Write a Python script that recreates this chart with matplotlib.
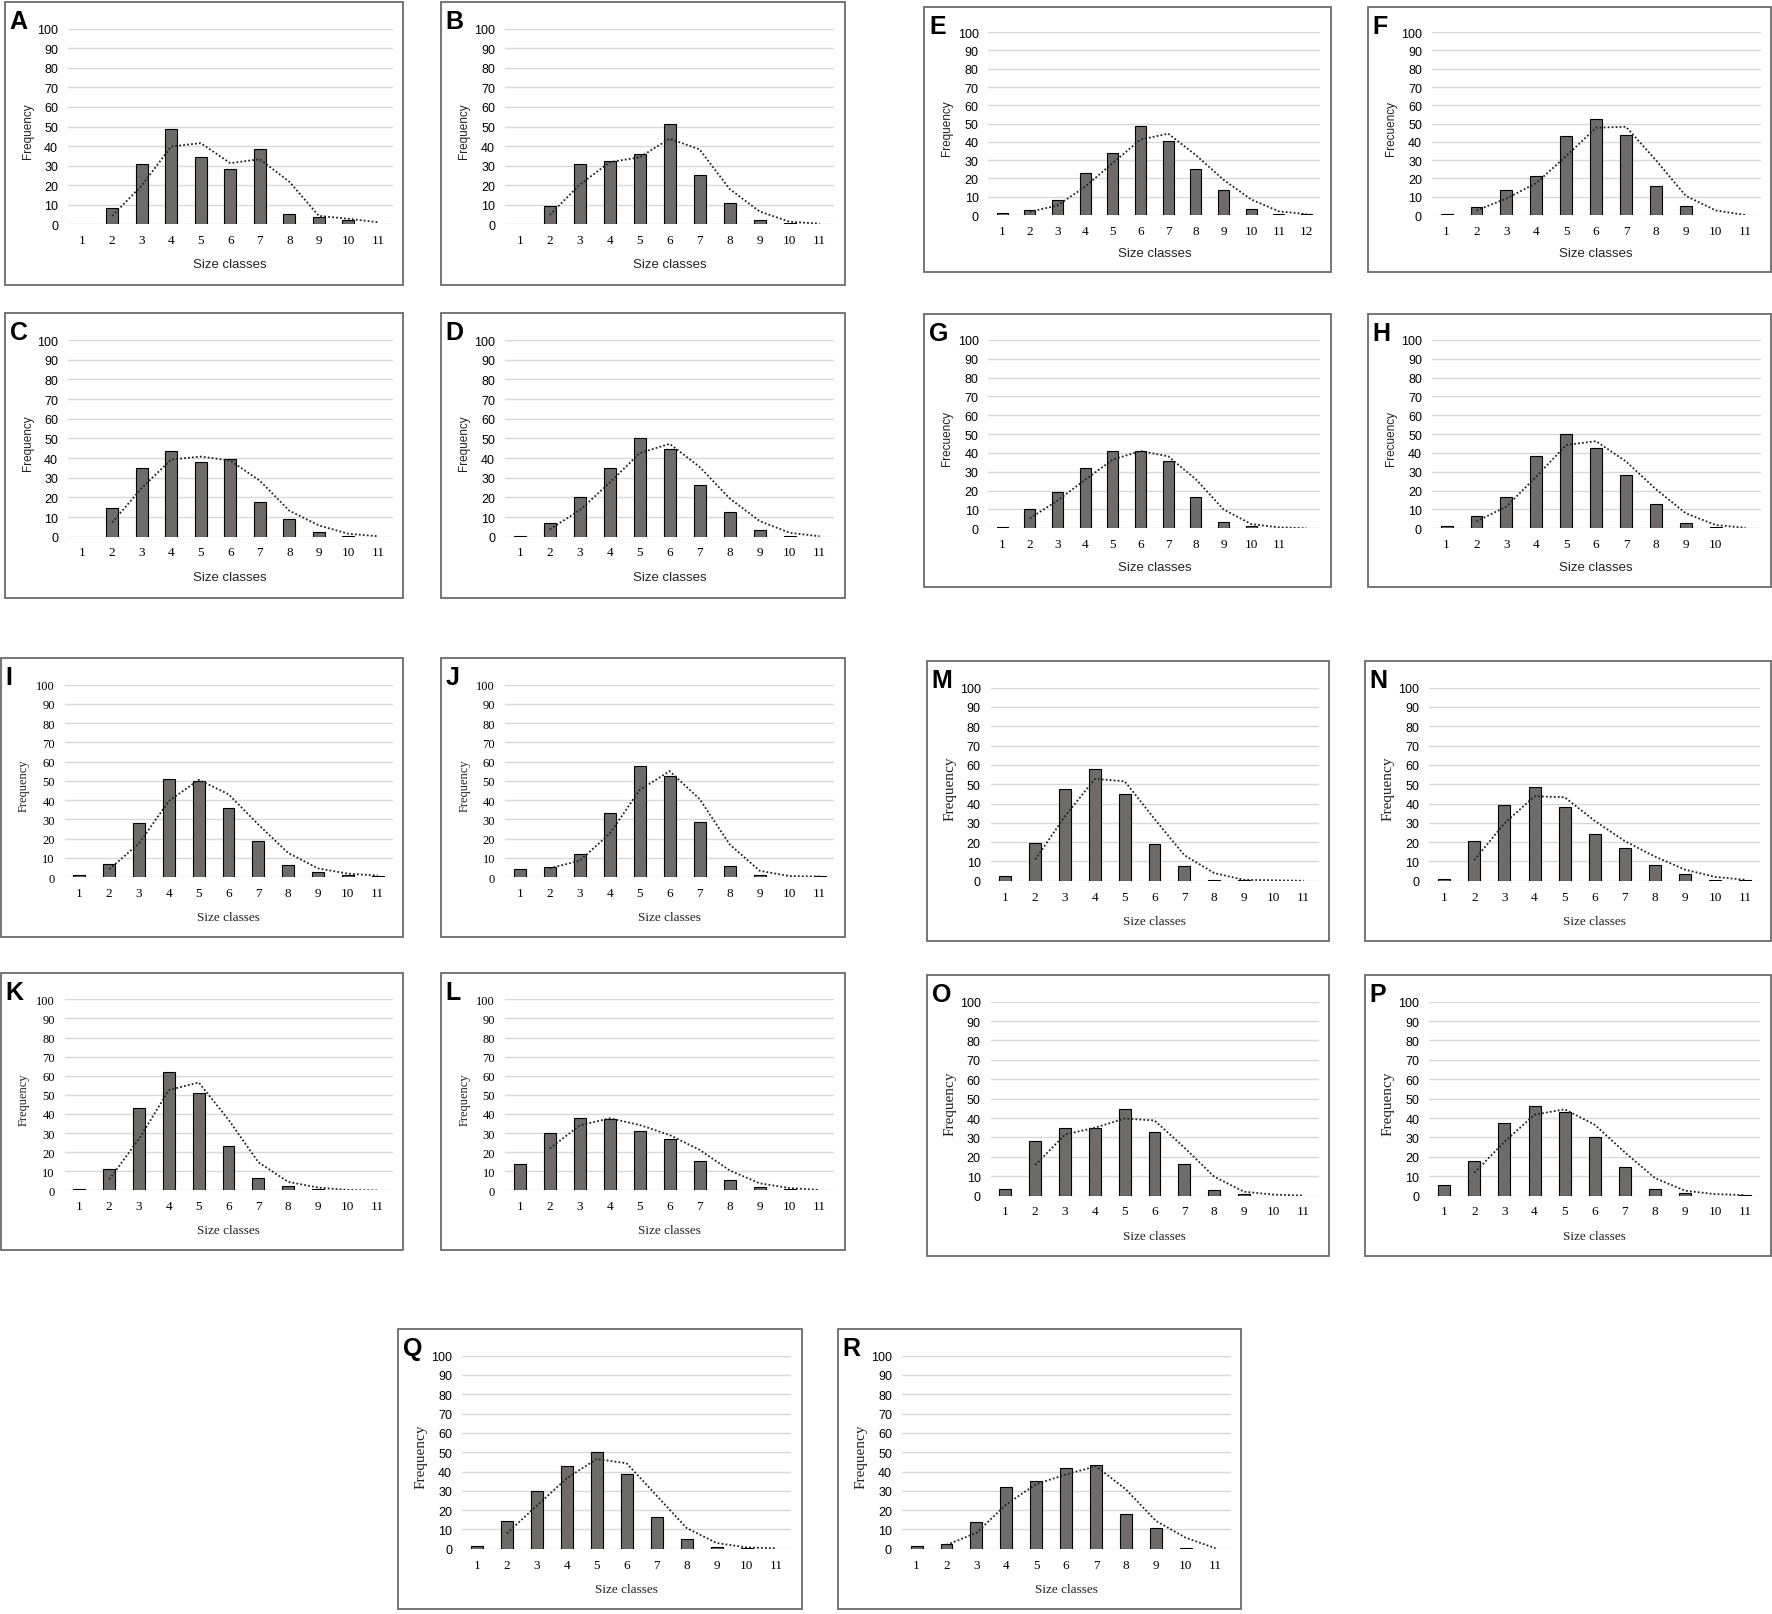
import numpy as np
import pandas as pd
import matplotlib
matplotlib.use("Agg")
import matplotlib.pyplot as plt
from matplotlib.patches import Rectangle

# Frequencies per size class
a_freq = [0, 8.5, 31, 48.5, 34.5, 28, 38.5, 5, 3.5, 2, 0]
b_freq = [0, 9.5, 31, 32.5, 36, 51.5, 25, 11, 2, 0.5, 0]
c_freq = [0, 14.5, 35, 43.5, 38, 39.5, 17.5, 9, 2.5, 0.5, 0]
d_freq = [0.5, 7, 20, 35, 50, 44.5, 26.5, 12.5, 3.5, 0.5, 0]
e_freq = [1, 2.5, 8, 23, 34, 48.5, 40.5, 25, 13.5, 3.5, 0.5, 0.5]
f_freq = [0.5, 4.5, 13.5, 21.5, 43, 52.5, 44, 16, 5, 0, 0]
g_freq = [0.5, 10, 19.5, 32, 41, 41, 35.5, 16.5, 3.5, 1, 0, 0]
h_freq = [1, 6.5, 16.5, 38.5, 50, 42.5, 28.5, 13, 3, 0.5, 0]
i_freq = [1, 7, 28, 51, 50, 36, 18.5, 6.5, 2.5, 1, 0.5]
j_freq = [4, 5, 12, 33, 57.5, 52.5, 28.5, 5.5, 1, 0, 0.5]
k_freq = [0.5, 11, 43, 62, 51, 23, 6.5, 2.5, 0.5, 0, 0]
l_freq = [14, 30, 38, 37.5, 31, 27, 15.5, 5.5, 2, 0.5, 0]
m_freq = [2.5, 19.5, 47.5, 58, 45, 19, 7.5, 0.5, 0.5, 0, 0]
n_freq = [1, 20.5, 39, 48.5, 38, 24, 17, 8, 3.5, 0.5, 0.5]
o_freq = [3.5, 28, 35, 35, 44.5, 33, 16.5, 3, 1, 0, 0]
p_freq = [5.5, 18, 37.5, 46, 43, 30, 14.5, 3.5, 1.5, 0, 0.5]
q_freq = [1.5, 14.5, 30, 43, 50, 38.5, 16.5, 5, 1, 0.5, 0]
r_freq = [1.5, 2.5, 14, 32, 35, 42, 43.5, 18, 11, 0.5, 0]

classes_11 = [str(i) for i in range(1, 12)]
classes_12 = [str(i) for i in range(1, 13)]
g_labels = classes_11 + [""]
h_labels = [str(i) for i in range(1, 11)] + [""]

# panel boxes in pixels (x0, y0, x1, y1), origin top-left
W, H = 1772, 1615
NARROW = ["Liberation Sans Narrow", "Liberation Sans"]
SANS = ["Liberation Sans"]
SERIF = ["Liberation Serif"]

# style groups: (ytick font, xtick font, xlabel font, ylabel font, ylabel size)
STYLE_SANS = (NARROW, SERIF, NARROW, SANS, 8.5)
STYLE_SERIF = (SERIF, SERIF, SERIF, SERIF, 9)
STYLE_MIX = (NARROW, SERIF, SERIF, SERIF, 11)

panels = [
    ("A", a_freq, classes_11, "Frequency", (5, 3, 403, 286), STYLE_SANS),
    ("B", b_freq, classes_11, "Frequency", (441, 3, 845, 286), STYLE_SANS),
    ("E", e_freq, classes_12, "Frequency", (924, 8, 1331, 273), STYLE_SANS),
    ("F", f_freq, classes_11, "Frecuency", (1368, 8, 1771, 273), STYLE_SANS),
    ("C", c_freq, classes_11, "Frequency", (5, 314, 403, 599), STYLE_SANS),
    ("D", d_freq, classes_11, "Frequency", (441, 314, 845, 599), STYLE_SANS),
    ("G", g_freq, g_labels, "Frecuency", (924, 315, 1331, 588), STYLE_SANS),
    ("H", h_freq, h_labels, "Frecuency", (1368, 315, 1771, 588), STYLE_SANS),
    ("I", i_freq, classes_11, "Frequency", (1, 659, 403, 938), STYLE_SERIF),
    ("J", j_freq, classes_11, "Frequency", (441, 659, 845, 938), STYLE_SERIF),
    ("M", m_freq, classes_11, "Frequency", (927, 662, 1329, 942), STYLE_MIX),
    ("N", n_freq, classes_11, "Frequency", (1365, 662, 1771, 942), STYLE_MIX),
    ("K", k_freq, classes_11, "Frequency", (1, 974, 403, 1251), STYLE_SERIF),
    ("L", l_freq, classes_11, "Frequency", (441, 974, 845, 1251), STYLE_SERIF),
    ("O", o_freq, classes_11, "Frequency", (927, 976, 1329, 1257), STYLE_MIX),
    ("P", p_freq, classes_11, "Frequency", (1365, 976, 1771, 1257), STYLE_MIX),
    ("Q", q_freq, classes_11, "Frequency", (398, 1330, 802, 1610), STYLE_MIX),
    ("R", r_freq, classes_11, "Frequency", (838, 1330, 1241, 1610), STYLE_MIX),
]

fig = plt.figure(figsize=(W / 100, H / 100), dpi=100)

for letter, freq, labels, ylab, (x0, y0, x1, y1), style in panels:
    ytf, xtf, xlf, ylf, yls = style
    bw, bh = x1 - x0, y1 - y0
    # outer frame
    fig.add_artist(Rectangle((x0 / W, 1 - y1 / H), bw / W, bh / H, fill=False,
                             edgecolor="#6b6b6b", linewidth=1.3,
                             transform=fig.transFigure))
    # plot area inside the frame
    left = x0 + 0.158 * bw
    right = x0 + 0.974 * bw
    top = y0 + 0.095 * bh
    bottom = y0 + 0.785 * bh
    ax = fig.add_axes([left / W, 1 - bottom / H, (right - left) / W, (bottom - top) / H])

    n = len(freq)
    x = np.arange(1, n + 1)
    vals = np.array(freq, dtype=float)
    nz = vals > 0
    ax.bar(x[nz], vals[nz], width=0.4, color="#6f6b6b", edgecolor="black", linewidth=0.8, zorder=3)
    # two-period moving average trendline
    ma = pd.Series(freq).rolling(2).mean()
    ax.plot(x[1:], ma.values[1:], linestyle=(0, (1, 1.2)), color="#222222", linewidth=1.3, zorder=4)

    ax.set_xlim(0.5, n + 0.5)
    ax.set_ylim(0, 100)
    ax.set_yticks(range(0, 101, 10))
    ax.set_xticks(x)
    ax.set_xticklabels(labels, family=xtf, fontsize=9.5)
    for t in ax.get_yticklabels():
        t.set_family(ytf)
        t.set_fontsize(9)
    ax.tick_params(length=0)
    ax.tick_params(axis="x", pad=7)
    ax.tick_params(axis="y", pad=7)
    ax.grid(axis="y", color="#d9d9d9", linewidth=1.0, zorder=0)
    ax.set_axisbelow(True)
    for s in ax.spines.values():
        s.set_visible(False)

    ax.set_ylabel(ylab, family=ylf, fontsize=yls, color="#222222")
    ax.yaxis.set_label_coords(-0.105, 0.48)
    ax.set_xlabel("Size classes", family=xlf, fontsize=9.5, color="#222222")
    ax.xaxis.set_label_coords(0.5, -0.175)

    fig.text((x0 + 0.012 * bw) / W, 1 - (y0 + 0.025 * bh) / H, letter,
             family=SANS, fontweight="bold", fontsize=18, va="top", ha="left")

fig.savefig("out.png", dpi=100)
